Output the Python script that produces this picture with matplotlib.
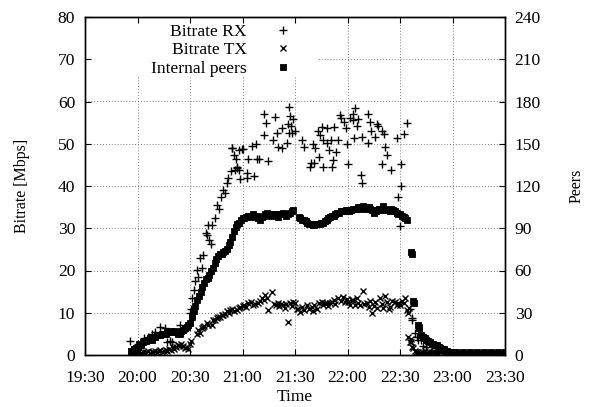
import matplotlib
matplotlib.use("Agg")
import matplotlib.pyplot as plt
from matplotlib.patches import Rectangle

# All times are minutes after 19:30.
# ---------------------------------------------------------------------------
# Data
# ---------------------------------------------------------------------------
rx_min = [25.7, 30.0, 33.9, 36.2, 38.0, 40.0, 42.9, 45.7, 46.7, 48.6, 49.5, 52.0,
          54.3, 56.0, 58.0, 59.6, 59.8, 60.3, 61.0, 62.0, 62.9, 63.8, 64.8, 65.7,
          66.7, 67.2, 69.1, 69.5, 70.5, 71.0, 72.0, 72.8, 74.3, 75.2, 76.6, 77.5,
          78.7, 80.0, 81.0, 81.9, 83.4, 83.8, 84.2, 85.1, 85.7, 86.1, 86.7, 87.0,
          88.0, 88.2, 88.6, 89.5, 90.2, 92.4, 92.8, 93.3, 95.2, 96.6, 97.7, 98.5,
          99.2, 102.3, 102.5, 103.2, 104.8, 107.6, 108.6, 109.5, 110.5, 112.4, 112.8,
          115.2, 116.2, 116.4, 116.8, 117.1, 117.7, 118.5, 119.0, 120.0, 123.8, 125.3,
          128.6, 129.0, 130.5, 130.9, 131.4, 133.3, 133.7, 134.3, 135.6, 135.8, 136.2,
          138.1, 138.3, 139.6, 140.6, 140.9, 141.5, 142.3, 143.4, 144.8, 145.7, 146.5,
          148.2, 149.1, 149.5, 150.5, 151.4, 152.9, 153.3, 153.5, 154.3, 155.2, 155.8,
          157.5, 158.1, 158.3, 161.5, 161.9, 162.9, 163.4, 165.7, 166.7, 167.5, 169.5,
          169.9, 170.8, 171.4, 172.8, 174.9, 178.1, 178.6, 180.1, 180.4, 180.7, 182.5,
          183.8, 185.7, 186.7, 187.0, 188.6, 189.5, 190.5, 191.8, 193.0, 195.0, 197.7,
          200.0, 205.0, 210.0, 215.0, 220.0, 225.0, 230.0, 235.0, 239.0]
rx_mbps = [3.3, 2.5, 4.0, 4.3, 4.9, 5.5, 6.7, 6.4, 3.1, 3.3, 3.0, 5.5,
           7.1, 6.0, 6.5, 7.1, 10.0, 11.0, 13.4, 15.4, 17.4, 20.1, 18.5, 22.9,
           20.5, 23.7, 28.8, 28.4, 30.8, 27.2, 26.3, 30.8, 32.4, 35.5, 34.5, 37.3,
           39.1, 38.3, 40.6, 42.0, 43.5, 49.1, 49.0, 47.3, 43.9, 46.3, 44.2, 44.4,
           43.8, 48.5, 41.7, 48.8, 48.7, 43.0, 41.8, 46.3, 49.5, 42.4, 49.9, 46.4,
           46.3, 57.0, 52.1, 54.8, 46.0, 50.9, 56.3, 52.5, 49.3, 49.1, 53.7,
           50.1, 54.7, 52.5, 58.6, 56.6, 54.2, 52.5, 55.9, 52.9, 50.9, 49.2,
           44.6, 45.5, 49.9, 45.4, 48.9, 52.9, 46.9, 52.1, 53.9, 50.9, 44.6,
           53.7, 50.1, 48.5, 51.0, 44.6, 46.2, 54.0, 48.1, 50.9, 56.8, 56.0,
           55.2, 53.7, 49.9, 45.2, 56.2, 55.6, 57.0, 51.3, 58.4, 54.2, 55.8,
           42.6, 40.6, 51.7, 57.0, 50.2, 55.2, 52.9, 51.7, 54.7, 54.3, 45.2,
           52.9, 52.2, 49.3, 47.3, 43.8, 51.3, 37.4, 30.5, 45.2, 40.0, 52.3,
           55.0, 11.0, 8.7, 8.3, 5.1, 4.3, 3.6, 3.5, 2.2, 1.8, 0.7,
           0.5, 0.4, 0.3, 0.3, 0.4, 0.3, 0.3, 0.4, 0.5]

tx_min = [26, 27, 28, 29, 30, 31, 32, 33, 34, 35, 36, 37, 38, 39, 40, 41, 42, 43,
          44, 45, 46, 47, 48, 49, 50, 51, 52, 53, 54, 55, 56, 57, 58, 59, 60, 60.6,
          64.0, 64.8, 65.7, 67.0, 67.2, 68.0, 69.5, 70.5, 72.4, 73.0, 74.0, 75.2,
          76.0, 77.1, 78.0, 79.0, 80.0, 81.0, 82.0, 83.0, 83.8, 85.0, 86.7, 88.0,
          88.6, 90.0, 90.9, 92.0, 93.3, 95.0, 96.2, 97.0, 99.0, 100.0, 101.0, 102.0,
          102.9, 104.0, 104.8, 106.7, 108.0, 109.0, 110.5, 111.0, 112.0, 113.3, 114.0,
          115.0, 116.2, 117.0, 118.0, 119.0, 120.0, 121.0, 121.9, 123.0, 123.8, 125.0,
          126.7, 128.0, 129.5, 130.5, 131.0, 132.4, 133.5, 135.2, 136.0, 137.0, 138.1,
          139.0, 140.0, 141.0, 142.0, 143.0, 144.8, 146.0, 147.6, 148.5, 149.5, 150.5,
          151.5, 152.5, 153.3, 154.5, 155.5, 156.2, 157.0, 158.7, 159.5, 160.9, 162.0,
          163.0, 163.8, 165.0, 165.7, 167.0, 168.6, 169.5, 170.5, 171.4, 172.5, 173.5,
          174.3, 175.5, 177.1, 178.0, 179.0, 180.0, 181.0, 182.0, 182.9, 183.8, 184.5,
          185.0, 184.8, 185.5, 186.0, 186.5, 187.0, 187.6, 188.5, 189.0, 190.5, 191.5,
          192.5, 193.5, 194.5, 195.5, 196.5, 197.5, 198.5, 199.5, 200.5, 201.5, 202.5,
          203.5, 204.5, 205.5, 207.0, 209.0, 212.0, 216.0, 220.0, 224.0, 228.0, 232.0,
          236.0, 239.0]
tx_mbps = [1.0, 0.5, 1.5, 0.8, 0.6, 1.0, 0.5, 0.7, 0.4, 0.6, 0.9, 0.5, 0.8, 0.6, 1.0,
           0.7, 0.9, 1.1, 0.8, 1.0, 1.2, 0.9, 1.4, 1.3, 1.8, 1.5, 2.0, 2.4, 2.2, 2.7,
           2.1, 1.6, 2.0, 1.5, 2.6, 3.2,
           5.0, 5.9, 5.1, 6.3, 6.7, 6.9, 7.5, 7.0, 7.1, 8.2, 8.4, 8.7,
           8.9, 9.1, 9.4, 9.5, 9.8, 10.3, 10.0, 10.6, 11.0, 10.5, 10.7, 11.2,
           11.4, 11.6, 11.8, 11.3, 12.2, 12.5, 11.8, 12.0, 12.2, 12.8, 13.4, 13.0,
           14.2, 13.6, 10.7, 15.0, 12.0, 11.8, 12.2, 11.6, 12.0, 11.8, 11.2,
           12.0, 7.9, 12.2, 11.6, 12.6, 12.2, 10.8, 11.0, 10.2, 11.4, 10.6,
           11.8, 11.0, 11.4, 10.4, 11.9, 11.0, 12.2, 12.6, 11.8, 12.2, 12.2,
           11.6, 12.4, 12.6, 13.0, 12.0, 13.4, 12.8, 13.8, 12.5, 13.2, 12.6,
           11.8, 12.9, 13.0, 11.9, 13.6, 12.4, 11.8, 15.2, 12.0, 12.2, 11.4,
           12.8, 9.9, 11.6, 12.6, 11.2, 13.4, 12.0, 11.2, 14.0, 12.6, 11.0,
           11.4, 12.8, 12.6, 11.9, 12.4, 11.8, 12.8, 12.2, 13.4, 10.7, 9.9,
           11.2, 4.3, 3.0, 3.7, 3.1, 2.0, 1.6, 1.0, 0.6, 0.8, 0.5,
           0.7, 0.4, 0.9, 0.5, 0.8, 0.4, 0.6, 0.9, 0.4, 0.5, 1.0,
           0.6, 0.3, 0.5, 0.3, 0.2, 0.2, 0.3, 0.2, 0.2, 0.3, 0.2,
           0.2, 0.3]

peer_min = [26, 27, 28, 29, 30, 31, 32, 33, 34, 35, 36, 37, 38, 39, 40, 41, 42, 43,
            44, 45, 46, 47, 48, 49, 50, 51, 52, 53, 54, 55, 56, 57, 58, 59, 60, 61,
            62, 63, 64, 65, 66, 67, 68, 69, 70, 71, 72, 73, 74, 75, 76, 77, 78, 79,
            80, 81, 82, 83, 84, 85, 86, 87, 88, 89, 90, 91, 92, 93, 94, 95, 96, 97,
            98, 99, 100, 101, 102, 103, 104, 105, 106, 107, 108, 109, 110, 111, 112,
            113, 114, 115, 116, 117, 118, 119,
            122, 123, 124, 125, 126, 127, 128, 129, 130, 131, 132, 133, 134, 135, 136,
            137, 138, 139, 140, 141, 142, 143, 144, 145, 146, 147, 148, 149, 150, 151,
            152, 153, 154, 155, 156, 157, 158, 159, 160, 161, 162, 163, 164, 165, 166,
            167, 168, 169, 170, 171, 172, 173, 174, 175, 176, 177, 178, 179, 180, 181,
            182, 183, 184, 186.0, 186.7, 187.7, 188.0, 190.0, 190.6, 191, 192, 193,
            194, 195, 196, 197, 198, 199, 200, 201, 202, 203, 204, 205, 206, 207, 208,
            209, 210, 212, 214, 216, 218, 220, 222, 224, 226, 228, 230, 232, 234, 236,
            238, 240]
peer_count = [3, 2, 4, 5, 6, 8, 7, 9, 10, 10, 11, 12, 11, 13, 13, 14, 14, 14,
              15, 15, 15, 16, 16, 17, 16, 17, 16, 15, 15, 17, 18, 19, 20, 21, 23, 27,
              31, 35, 39, 42, 45, 48, 51, 54, 55, 57, 60, 62, 65, 68, 70, 72, 72, 73,
              74, 75, 78, 80, 84, 88, 91, 93, 94, 96, 97, 97, 98, 99, 98, 99, 100, 98,
              99, 97, 96, 98, 99, 100, 101, 100, 99, 100, 100, 99, 98, 100, 100,
              101, 100, 99, 100, 101, 102, 103,
              98, 97, 96, 96, 95, 94, 93, 93, 92, 92, 93, 93, 93, 94, 94,
              95, 96, 97, 98, 99, 99, 100, 101, 101, 102, 102, 102, 103, 103, 102,
              103, 104, 104, 104, 105, 105, 104, 106, 105, 104, 105, 104, 103, 101, 102,
              103, 104, 103, 106, 104, 103, 103, 102, 104, 103, 102, 101, 100, 100, 99,
              98, 97, 96, 73, 72, 38, 37, 21, 20, 19, 14, 13,
              12, 11, 10, 9, 8, 8, 7, 7, 6, 5, 4, 4, 3, 3, 2,
              2, 2, 2, 1, 2, 1, 2, 1, 2, 1, 2, 1, 2, 1, 2,
              1, 2]

tick_min = [0, 30, 60, 90, 120, 150, 180, 210, 240]
tick_labels = ["19:30", "20:00", "20:30", "21:00", "21:30", "22:00", "22:30",
               "23:00", "23:30"]

# ---------------------------------------------------------------------------
# Plot
# ---------------------------------------------------------------------------
plt.rcParams["font.family"] = ["Liberation Serif", "DejaVu Serif"]
FS = 12.6

fig = plt.figure(figsize=(5.89, 4.07), dpi=100)
ax = fig.add_axes([85 / 589, 52 / 407, 420 / 589, 338 / 407])
ax2 = ax.twinx()

# left axis carries grid + labels; ticks themselves are drawn by ax2 so they
# stay on top of the white key box (gnuplot style)
ax.grid(True, color="#808080", linestyle=(0, (1, 2)), linewidth=0.7)
ax.set_axisbelow(True)
ax.add_patch(Rectangle((0.004, 0.822), 0.548, 0.176, transform=ax.transAxes,
                       facecolor="white", edgecolor="none", zorder=1))

h_rx, = ax.plot(rx_min, rx_mbps, linestyle="none", marker="+", markersize=6,
                markeredgewidth=1.0, color="black", label="Bitrate RX", zorder=3)
h_tx, = ax.plot(tx_min, tx_mbps, linestyle="none", marker="x", markersize=5,
                markeredgewidth=1.0, color="black", label="Bitrate TX", zorder=3)
h_pe, = ax2.plot(peer_min, peer_count, linestyle="none", marker="s", markersize=4.0,
                 markeredgewidth=0.6, color="black", label="Internal peers")

ax.set_xlim(0, 240)
ax.set_ylim(0, 80)
ax2.set_ylim(0, 240)
ax.set_xticks(tick_min)
ax.set_xticklabels(tick_labels)
ax.set_yticks(range(0, 81, 10))
ax2.set_yticks(range(0, 241, 30))

ax.tick_params(axis="both", length=0, labelsize=FS)
ax.tick_params(axis="x", pad=11)
ax.tick_params(axis="y", pad=7)
ax2.xaxis.set_visible(True)
ax2.tick_params(axis="x", which="both", direction="in", length=4.5, width=0.8,
                top=True, bottom=True, labelbottom=False, labeltop=False)
ax2.tick_params(axis="y", direction="in", length=4.5, width=0.8, left=True,
                right=True, labelleft=False, labelright=True, labelsize=FS, pad=7)

for a in (ax, ax2):
    for sp in a.spines.values():
        sp.set_linewidth(1.0)

ax.set_xlabel("Time", fontsize=FS, labelpad=2)
ax.set_ylabel("Bitrate [Mbps]", fontsize=11.5, labelpad=20)
ax2.set_ylabel("Peers", fontsize=11.5, labelpad=20)

# markerfirst=False right-aligns the rows, so labels end flush before the samples
leg = ax2.legend(handles=[h_rx, h_tx, h_pe], loc="upper right",
                 bbox_to_anchor=(0.492, 0.98), frameon=False, markerfirst=False,
                 fontsize=FS, handlelength=1.0, handletextpad=1.56,
                 labelspacing=0.12, borderpad=0, borderaxespad=0)

fig.savefig("out.png", dpi=100)
